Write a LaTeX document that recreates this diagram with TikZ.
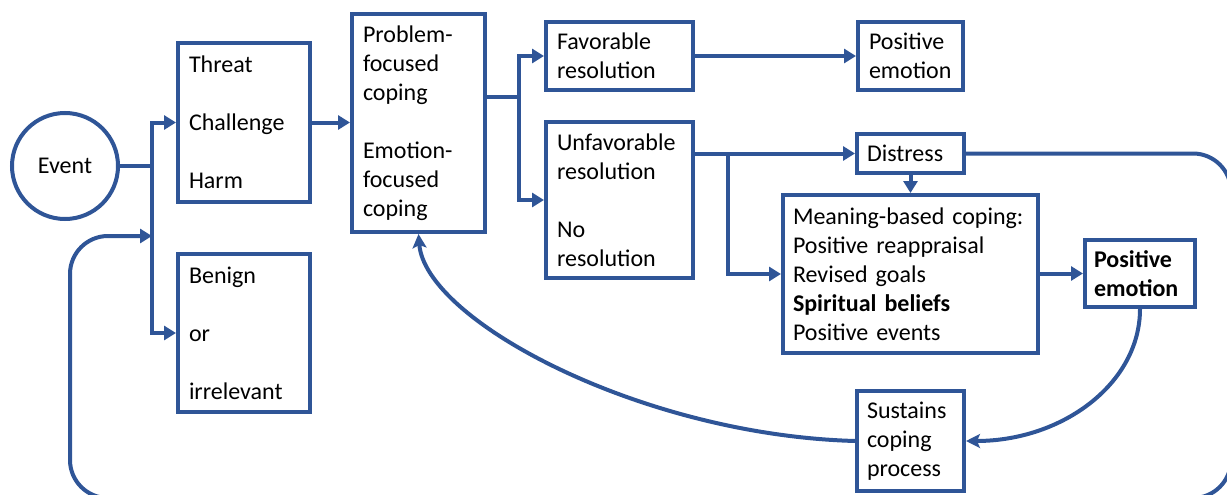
\documentclass[tikz,border=0pt]{standalone}
\usepackage{fontspec}
\setmainfont{Carlito}
\usetikzlibrary{arrows.meta}
\definecolor{lineblue}{RGB}{47,85,151}
\begin{document}
\begin{tikzpicture}[x=1pt,y=-1pt,
  font=\fontsize{24}{29}\selectfont,
  box/.style={draw=lineblue, line width=4pt, align=left, inner xsep=11pt, inner ysep=2pt},
  conn/.style={draw=lineblue, line width=4pt},
  arr/.style={conn, -{Triangle[length=12pt,width=14pt]}},
  carr/.style={conn, -{Stealth[length=14pt,width=14pt,inset=3pt]}}]
\useasboundingbox (0,0) rectangle (1227,495);
\clip (0,0) rectangle (1227,495);

\node[circle, draw=lineblue, line width=4pt, minimum size=106pt, inner sep=0pt] (event) at (65,166) {Event};
\node[box, text width=110pt, minimum height=159pt] (threat) at (244,122.5) {Threat\\[29pt]Challenge\\[29pt]Harm};
\node[box, text width=110pt, minimum height=158pt] (benign) at (244,333) {Benign\\[29pt]or\\[29pt]irrelevant};
\node[box, text width=111pt, minimum height=218pt] (problem) at (418.5,123) {Problem-\\focused\\coping\\[29pt]Emotion-\\focused\\coping};
\node[box, text width=125pt, minimum height=68pt] (fav) at (619.5,56) {Favorable\\resolution};
\node[box, text width=125pt, minimum height=156pt] (unfav) at (619.5,200) {Unfavorable\\resolution\\[29pt]No\\resolution};
\node[box, text width=83pt, minimum height=68pt] (pos1) at (910.5,56) {Positive\\emotion};
\node[box, inner xsep=10pt, text width=87pt, minimum height=39pt] (distress) at (910.5,153.5) {Distress};
\node[box, inner xsep=10pt, text width=235pt, minimum height=158pt] (meaning) at (910.5,274) {Meaning-based coping:\\Positive reappraisal\\Revised goals\\\textbf{Spiritual beliefs}\\Positive events};
\node[box, inner xsep=9pt, text width=92pt, minimum height=67pt] (pos2) at (1140,273.5) {\textbf{Positive}\\\textbf{emotion}};
\node[box, inner xsep=10pt, text width=87pt, minimum height=100pt] (sustains) at (910.5,441) {Sustains\\coping\\process};

\coordinate (b1) at (152,166);
\coordinate (b4) at (152,236);
\coordinate (b2) at (519,97);
\coordinate (b3) at (728,153.5);

\draw[conn] (event.east) -- (b1);
\draw[arr] (b1) |- (threat.west);
\draw[arr] (b1) |- (benign.west);
\draw[arr] (threat.east) -- (threat.east -| problem.west);
\draw[conn] (problem.east |- b2) -- (b2);
\draw[arr] (b2) |- (fav.west);
\draw[arr] (b2) |- (unfav.west);
\draw[arr] (fav.east) -- (pos1.west);
\draw[arr] (unfav.east |- distress.west) -- (distress.west);
\draw[arr] (b3) |- (meaning.west);
\draw[arr] (distress.south) -- (meaning.north);
\draw[arr] (meaning.east |- pos2.west) -- (pos2.west);
\draw[carr] (pos2.south) .. controls +(0,74) and +(97,0) .. (sustains.east);
\draw[carr] (sustains.west) .. controls (640,435) and (425,320) .. (problem.south);
\draw[arr, rounded corners=38pt] (distress.east) -- (1231,153.5) -- (1231,498) -- (70,498) -- (70,236) -- (b4);
\end{tikzpicture}
\end{document}
